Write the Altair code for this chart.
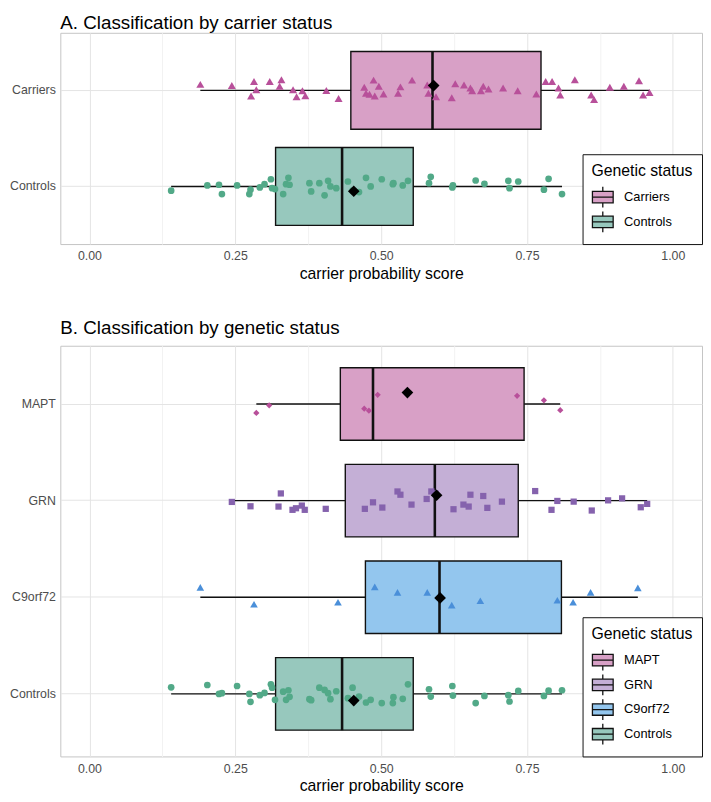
import altair as alt
import pandas as pd

# ---------------- Panel A: carrier status ----------------
groups_a = ["Carriers", "Controls"]
low_a = [0.190, 0.140]
q1_a = [0.448, 0.319]
median_a = [0.588, 0.433]
q3_a = [0.774, 0.555]
high_a = [0.960, 0.810]
mean_a = [0.590, 0.453]

carriers_score = [0.190, 0.244, 0.277, 0.282, 0.286, 0.309, 0.326, 0.329, 0.349, 0.355,
                  0.365, 0.370, 0.406, 0.427, 0.471, 0.474, 0.480, 0.487, 0.489, 0.496,
                  0.504, 0.529, 0.533, 0.553, 0.579, 0.581, 0.589, 0.594, 0.621, 0.627,
                  0.642, 0.653, 0.656, 0.671, 0.675, 0.684, 0.709, 0.734, 0.766, 0.782,
                  0.793, 0.804, 0.807, 0.832, 0.860, 0.865, 0.892, 0.916, 0.942, 0.949, 0.960]
carriers_jitter = [-6.1, -5.0, 5.7, -9.0, -0.7, -9.0, -4.3, -10.8, -0.7, 6.5,
                   0.4, 5.4, 0.0, 8.2, -3.2, 2.9, 3.9, -10.4, 5.7, -4.3,
                   3.6, 2.9, -3.6, -10.4, -5.4, 2.9, -6.0, 6.5, 7.5, -6.8,
                   -5.4, -2.5, 0.4, 0.4, -4.3, -1.4, -2.5, 0.4, 3.6, -9.0,
                   -9.0, -2.5, 4.7, -10.8, 4.7, 9.3, -3.2, -4.3, -9.7, 4.7, 2.2]

controls_score = [0.140, 0.202, 0.222, 0.227, 0.253, 0.274, 0.276, 0.292, 0.300, 0.311,
                  0.313, 0.318, 0.332, 0.337, 0.341, 0.343, 0.377, 0.380, 0.394, 0.403,
                  0.409, 0.413, 0.423, 0.443, 0.451, 0.462, 0.474, 0.482, 0.501, 0.520,
                  0.521, 0.537, 0.546, 0.582, 0.585, 0.622, 0.623, 0.662, 0.677, 0.718,
                  0.720, 0.735, 0.779, 0.787, 0.810]
controls_jitter_a = [4.3, -1.0, -1.7, 7.7, -1.0, 7.7, 3.3, 1.0, -2.3, -7.3,
                     1.7, 2.7, 7.7, -2.3, -8.7, -1.7, -3.3, 5.0, -3.3, 9.0,
                     -5.7, 0.0, 1.7, -5.0, 4.3, 5.7, -8.7, 0.0, -7.3, -2.3,
                     -3.3, -1.0, -5.7, -3.3, -9.7, 1.0, -1.0, -6.0, -2.7, -5.7,
                     1.7, -5.0, 3.3, -7.7, 7.7]
controls_jitter_b = [-6.7, -9.0, 0.0, -0.7, -8.0, 0.0, 8.0, 1.3, -1.0, -9.7,
                     -6.3, 6.0, -2.3, 6.0, -3.7, 3.0, 5.3, 6.3, -6.3, -4.0,
                     -0.7, 5.3, -2.7, 4.3, -6.3, 2.7, 8.7, 6.0, 9.3, 9.3,
                     3.3, 5.0, -9.7, -4.7, 2.7, -8.0, 1.7, 9.3, 2.0, 1.3,
                     7.7, -3.0, 2.0, -3.3, -3.7]

# ---------------- Panel B: genetic status ----------------
groups_b = ["MAPT", "GRN", "C9orf72", "Controls"]
low_b = [0.286, 0.244, 0.190, 0.140]
q1_b = [0.430, 0.4385, 0.473, 0.319]
median_b = [0.486, 0.592, 0.600, 0.433]
q3_b = [0.745, 0.735, 0.809, 0.555]
high_b = [0.807, 0.956, 0.940, 0.810]
mean_b = [0.545, 0.595, 0.601, 0.453]

mapt_score = [0.286, 0.308, 0.471, 0.479, 0.494, 0.733, 0.779, 0.807]
mapt_jitter = [9.0, 1.3, 4.7, 6.7, -9.3, -8.3, -3.7, 6.3]

grn_score = [0.244, 0.276, 0.324, 0.328, 0.348, 0.354, 0.364, 0.369, 0.405, 0.472,
             0.486, 0.502, 0.528, 0.533, 0.552, 0.578, 0.586, 0.593, 0.624, 0.641,
             0.650, 0.653, 0.675, 0.682, 0.707, 0.764, 0.792, 0.802, 0.830, 0.861,
             0.889, 0.913, 0.945, 0.956]
grn_jitter = [1.3, 5.7, 6.0, -7.3, 9.3, 7.7, 5.0, 9.3, 8.3, 8.3,
              1.7, 7.0, -9.3, -6.0, 4.0, -1.7, -9.3, -7.3, 8.7, 4.0,
              6.0, -6.0, -4.7, 7.3, 1.0, -9.7, 9.3, 0.3, 1.0, 10.0,
              -0.3, -2.3, 6.7, 3.3]

c9_score = [0.190, 0.282, 0.426, 0.489, 0.528, 0.579, 0.621, 0.670, 0.802, 0.829, 0.859, 0.940]
c9_jitter = [-10.0, 7.0, 5.0, -10.5, -5.0, -5.0, 8.0, 3.5, 3.0, 5.0, -5.0, -9.5]

# ---------------- styles ----------------
box_colors_a = ["#D8A0C6", "#97C8BD"]
point_colors_a = ["#B8509A", "#52A988"]
shapes_a = ["triangle-up", "circle"]
sizes_a = [66, 46]

box_colors_b = ["#D8A0C6", "#C4AFD6", "#93C6EE", "#97C8BD"]
point_colors_b = ["#B8509A", "#8562AD", "#4A8FD9", "#52A988"]
shapes_b = ["diamond", "square", "triangle-up", "circle"]
sizes_b = [40, 40, 60, 46]

tick_values = [0.0, 0.125, 0.25, 0.375, 0.5, 0.625, 0.75, 0.875, 1.0]
major_test = "abs(datum.value * 4 - round(datum.value * 4)) < 0.01"

LEGEND_PATH = "M-1,-0.55L1,-0.55L1,0.55L-1,0.55Z M0,-1L0,-0.55 M0,0.55L0,1 M-1,0L1,0"


def panel(title, groups, low, q1, med, q3, high, mean, point_sets, box_colors, point_colors,
          shapes, sizes, height, pad_inner, pad_outer, align, title_offset):
    summary = pd.DataFrame({"group": groups, "low": low, "q1": q1, "median": med,
                            "q3": q3, "high": high, "mean": mean})
    xscale = alt.Scale(domain=[-0.05, 1.05], nice=False, zero=False)
    x_axis = alt.Axis(
        values=tick_values,
        labelExpr=f"{major_test} ? format(datum.value, '.2f') : ''",
        gridColor={"condition": {"test": major_test, "value": "#E4E4E4"}, "value": "#F2F2F2"},
        grid=True, ticks=False, domain=False, labelPadding=6, titlePadding=3,
        labelOverlap=False, labelFlush=False,
    )
    xtitle = "carrier probability score"

    def X(field):
        return alt.X(field, scale=xscale, axis=x_axis, title=xtitle)

    yscale = alt.Scale(domain=groups, paddingInner=pad_inner, paddingOuter=pad_outer,
                       align=align)

    def Y(show_axis):
        if show_axis:
            return alt.Y("group:N", sort=groups, title=None, scale=yscale,
                         axis=alt.Axis(grid=True, gridColor="#E4E4E4", ticks=False,
                                       domain=False, labelPadding=5))
        return alt.Y("group:N", sort=groups, title=None, scale=yscale, axis=None)

    # half of the band width, so that pixel jitter is measured from the band centre
    step = height / (len(groups) - pad_inner + 2 * pad_outer)
    half_band = step * (1 - pad_inner) / 2

    base = alt.Chart(summary)
    whisk_lo = base.mark_rule(color="#111111", strokeWidth=1.4).encode(
        x=X("low:Q"), x2="q1:Q", y=Y(True))
    whisk_hi = base.mark_rule(color="#111111", strokeWidth=1.4).encode(
        x=X("q3:Q"), x2="high:Q", y=Y(True))
    box = base.mark_bar(stroke="#111111", strokeWidth=1.4, opacity=1).encode(
        x=X("q1:Q"), x2="q3:Q", y=Y(True),
        fill=alt.Fill("group:N", scale=alt.Scale(domain=groups, range=box_colors),
                      legend=alt.Legend(
                          title="Genetic status", orient="bottom-right", offset=0,
                          strokeColor="#111111", fillColor="white", padding=9,
                          symbolType=LEGEND_PATH, symbolSize=441,
                          symbolStrokeColor="#111111", symbolStrokeWidth=1.3,
                          symbolOpacity=1,
                          titleFontSize=16, titleFontWeight="normal", titleColor="black",
                          titlePadding=7, labelFontSize=13, labelColor="black",
                          labelOffset=10, rowPadding=-3)))
    median_line = base.mark_bar(stroke="#111111", strokeWidth=2.6, fill="#111111").encode(
        x=X("median:Q"), x2="median:Q", y=Y(True))
    boxes = alt.layer(whisk_lo, whisk_hi, box, median_line)

    point_layers = []
    for i, (g, scores, jit) in enumerate(point_sets):
        df = pd.DataFrame({"group": g, "score": scores, "jitter": jit})
        point_layers.append(
            alt.Chart(df).mark_point(filled=True, opacity=1, shape=shapes[i],
                                     color=point_colors[i], size=sizes[i]).encode(
                x=X("score:Q"), y=Y(False),
                yOffset=alt.YOffset("jitter:Q", scale=alt.Scale(
                    type="linear", domain=[-20, 20], range=[half_band - 20, half_band + 20])),
            ))
    points = alt.layer(*point_layers)

    mean_pt = base.mark_point(shape="diamond", filled=True, color="black", size=140,
                              opacity=1).encode(x=X("mean:Q"), y=Y(False))

    return alt.layer(boxes, points, mean_pt).resolve_scale(
        y="independent", yOffset="independent"
    ).properties(
        width=650, height=height,
        title=alt.TitleParams(title, anchor="start", frame="group", fontSize=19,
                              fontWeight="normal", color="black", offset=title_offset),
    )


top = panel("A. Classification by carrier status", groups_a, low_a, q1_a, median_a, q3_a,
            high_a, mean_a,
            [("Carriers", carriers_score, carriers_jitter),
             ("Controls", controls_score, controls_jitter_a)],
            box_colors_a, point_colors_a, shapes_a, sizes_a,
            214, 0.19, 0.195, 0.5, 0)
bottom = panel("B. Classification by genetic status", groups_b, low_b, q1_b, median_b, q3_b,
               high_b, mean_b,
               [("MAPT", mapt_score, mapt_jitter),
                ("GRN", grn_score, grn_jitter),
                ("C9orf72", c9_score, c9_jitter),
                ("Controls", controls_score, controls_jitter_b)],
               box_colors_b, point_colors_b, shapes_b, sizes_b,
               416, 0.25, 0.25, 0.456, 8)

chart = alt.vconcat(top, bottom, spacing=37).resolve_scale(
    x="independent", y="independent", fill="independent"
).resolve_legend(fill="independent").properties(
    padding={"left": 0, "top": 0, "right": 0, "bottom": 0}
).configure(font="Liberation Sans").configure_view(
    stroke="#C4C4C4", strokeWidth=1
).configure_axis(
    labelColor="#4D4D4D", labelFontSize=12.5, titleFontSize=16, titleColor="black",
    titleFontWeight="normal"
)

chart.save("out.html", embed_options={"renderer": "svg", "actions": False})
